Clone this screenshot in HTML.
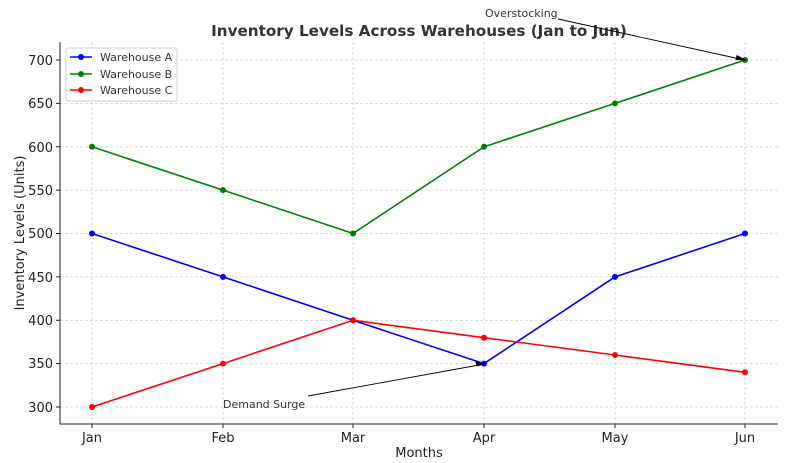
<!DOCTYPE html>
<html><head><meta charset="utf-8"><style>body{margin:0;background:#fff}svg{display:block}</style></head><body>
<svg width="788" height="463" xmlns="http://www.w3.org/2000/svg" font-family="'DejaVu Sans','Liberation Sans',sans-serif">
<rect width="788" height="463" fill="#fff"/>
<g stroke="#d0d0d0" stroke-width="0.8" stroke-dasharray="3,2">
<line x1="92" y1="42" x2="92" y2="424"/><line x1="223" y1="42" x2="223" y2="424"/><line x1="353" y1="42" x2="353" y2="424"/><line x1="484" y1="42" x2="484" y2="424"/><line x1="615" y1="42" x2="615" y2="424"/><line x1="745" y1="42" x2="745" y2="424"/>
<line x1="60" y1="407" x2="778" y2="407"/><line x1="60" y1="363.6" x2="778" y2="363.6"/><line x1="60" y1="320.3" x2="778" y2="320.3"/><line x1="60" y1="276.9" x2="778" y2="276.9"/><line x1="60" y1="233.5" x2="778" y2="233.5"/><line x1="60" y1="190.1" x2="778" y2="190.1"/><line x1="60" y1="146.8" x2="778" y2="146.8"/><line x1="60" y1="103.4" x2="778" y2="103.4"/><line x1="60" y1="60" x2="778" y2="60"/>
</g>
<polyline points="60,42 60,424 778,424" fill="none" stroke="#222" stroke-width="1"/>
<g stroke="#222"><line x1="92" y1="424" x2="92" y2="428"/><line x1="223" y1="424" x2="223" y2="428"/><line x1="353" y1="424" x2="353" y2="428"/><line x1="484" y1="424" x2="484" y2="428"/><line x1="615" y1="424" x2="615" y2="428"/><line x1="745" y1="424" x2="745" y2="428"/>
<line x1="56" y1="407" x2="60" y2="407"/><line x1="56" y1="363.6" x2="60" y2="363.6"/><line x1="56" y1="320.3" x2="60" y2="320.3"/><line x1="56" y1="276.9" x2="60" y2="276.9"/><line x1="56" y1="233.5" x2="60" y2="233.5"/><line x1="56" y1="190.1" x2="60" y2="190.1"/><line x1="56" y1="146.8" x2="60" y2="146.8"/><line x1="56" y1="103.4" x2="60" y2="103.4"/><line x1="56" y1="60" x2="60" y2="60"/></g>
<g font-size="13" fill="#222" text-anchor="end">
<text x="53" y="412">300</text><text x="53" y="368">350</text><text x="53" y="325">400</text><text x="53" y="282">450</text><text x="53" y="238">500</text><text x="53" y="195">550</text><text x="53" y="152">600</text><text x="53" y="108">650</text><text x="53" y="65">700</text></g>
<g font-size="13" fill="#222" text-anchor="middle">
<text x="92" y="442">Jan</text><text x="223" y="442">Feb</text><text x="353" y="442">Mar</text><text x="484" y="442">Apr</text><text x="615" y="442">May</text><text x="745" y="442">Jun</text>
<text x="419" y="457">Months</text>
<text x="419" y="36" font-size="15.2" font-weight="bold" fill="#333">Inventory Levels Across Warehouses (Jan to Jun)</text>
</g>
<text transform="translate(24,233) rotate(-90)" font-size="13" fill="#222" text-anchor="middle">Inventory Levels (Units)</text>
<g fill="none" stroke-width="1.6">
<polyline stroke="#0000ff" points="92,233.5 223,276.9 353,320.3 484,363.6 615,276.9 745,233.5"/>
<polyline stroke="#008000" points="92,146.8 223,190.1 353,233.5 484,146.8 615,103.4 745,60"/>
<polyline stroke="#ff0000" points="92,407 223,363.6 353,320.3 484,337.7 615,355 745,372.3"/>
</g>
<g fill="#0000ff"><circle cx="92" cy="233.5" r="3"/><circle cx="223" cy="276.9" r="3"/><circle cx="353" cy="320.3" r="3"/><circle cx="484" cy="363.6" r="3"/><circle cx="615" cy="276.9" r="3"/><circle cx="745" cy="233.5" r="3"/></g>
<g fill="#008000"><circle cx="92" cy="146.8" r="3"/><circle cx="223" cy="190.1" r="3"/><circle cx="353" cy="233.5" r="3"/><circle cx="484" cy="146.8" r="3"/><circle cx="615" cy="103.4" r="3"/><circle cx="745" cy="60" r="3"/></g>
<g fill="#ff0000"><circle cx="92" cy="407" r="3"/><circle cx="223" cy="363.6" r="3"/><circle cx="353" cy="320.3" r="3"/><circle cx="484" cy="337.7" r="3"/><circle cx="615" cy="355" r="3"/><circle cx="745" cy="372.3" r="3"/></g>
<g stroke="#000" stroke-width="0.9" fill="#000">
<line x1="558" y1="19" x2="740" y2="59"/><polygon points="745,60 737,55.5 736,59.5"/>
<line x1="308" y1="396" x2="479" y2="365"/><polygon points="484,364 476,362 477,366"/>
</g>
<text x="485" y="17" font-size="11" fill="#333">Overstocking</text>
<text x="223" y="408" font-size="11" fill="#333">Demand Surge</text>
<rect x="66" y="48" width="111" height="53" rx="2" fill="#fff" fill-opacity="0.85" stroke="#ccc"/>
<g stroke-width="1.6"><line x1="70" y1="57" x2="92" y2="57" stroke="#0000ff"/><line x1="70" y1="74" x2="92" y2="74" stroke="#008000"/><line x1="70" y1="90" x2="92" y2="90" stroke="#ff0000"/></g>
<circle cx="81" cy="57" r="3" fill="#0000ff"/><circle cx="81" cy="74" r="3" fill="#008000"/><circle cx="81" cy="90" r="3" fill="#ff0000"/>
<g font-size="11" fill="#333"><text x="100" y="61">Warehouse A</text><text x="100" y="78">Warehouse B</text><text x="100" y="94">Warehouse C</text></g>
</svg>
</body></html>
